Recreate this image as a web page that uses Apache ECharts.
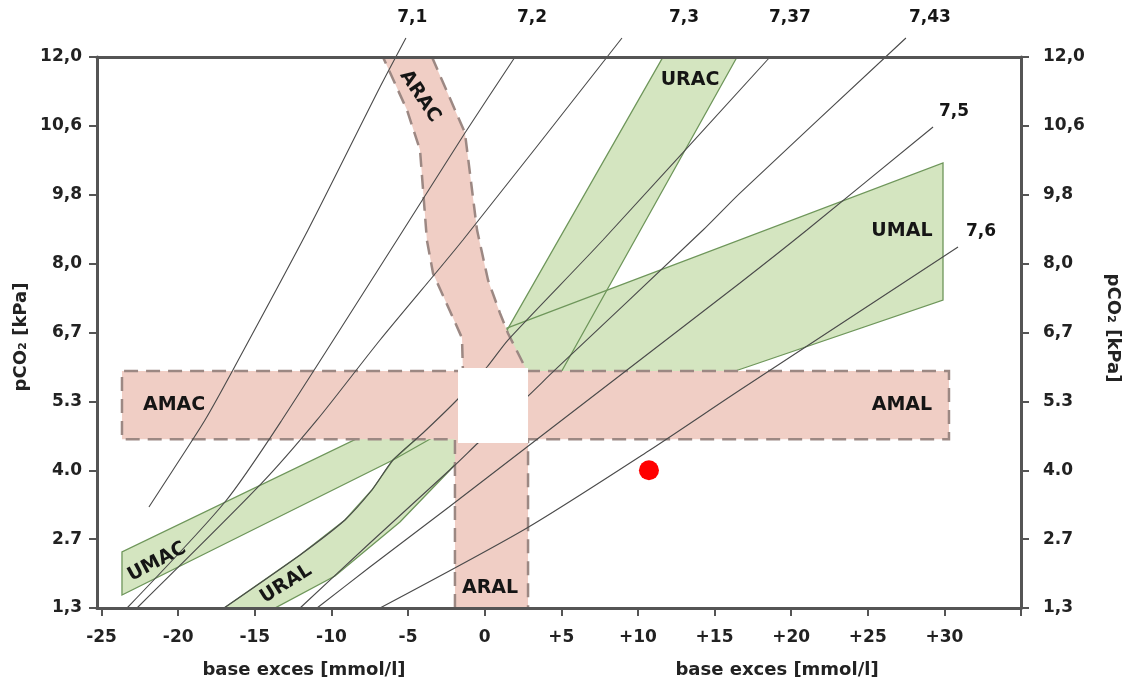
<!DOCTYPE html>
<html><head><meta charset="utf-8">
<script src="https://cdn.jsdelivr.net/npm/echarts@6/dist/echarts.min.js"></script>
<style>html,body{margin:0;padding:0;background:#fff}#c{width:1133px;height:682px}</style>
</head><body><div id="c"></div><script>
// ---- axis ticks ----
const xTickValues = [-25,-20,-15,-10,-5,0,5,10,15,20,25,30];
const yTickLabels = ['1,3','2.7','4.0','5.3','6,7','8,0','9,8','10,6','12,0'];

// ---- compensation zones (x = base excess, y = pCO2 scale position) ----
const zoneURAC = [[11.64,8.0],[16.47,8.0],[3.61,2.875],[0.35,3.601]];
const zoneUMAL = [[1.45,4.065],[29.91,6.461],[29.91,4.472],[17.12,3.499],[4.91,2.584],[1.32,3.02]];
const zoneUMAC = [[-23.67,0.813],[-23.67,0.189],[-5.98,2.149],[-1.94,2.657],[-5.53,2.759]];
const zoneURAL = [[-17.01,0],[-13.69,0],[-9.77,0.465],[-5.53,1.249],[-2.26,2.004],[-0.63,2.439],[-0.96,2.875],[-2.92,2.875],[-4.03,2.541],[-5.98,2.149],[-7.36,1.713],[-9.12,1.278],[-12.05,0.770]];

// acute zones (AMAC/AMAL band, ARAC, ARAL) outline in two open parts
const acuteEdgeA = [[-3.44,8.0],[-1.74,7.13],[-1.29,6.90],[-0.50,5.49],[0.22,4.76],[1.00,4.28],[1.52,3.99],[2.76,3.44],[30.30,3.44],[30.30,2.45],[2.83,2.45],[2.83,0]];
const acuteEdgeB = [[-1.94,0],[-1.94,2.45],[-23.67,2.45],[-23.67,3.44],[-1.42,3.44],[-1.48,3.92],[-3.37,4.86],[-3.77,5.34],[-4.22,6.65],[-5.07,7.23],[-6.64,8.0]];
const normalBox = [[-1.74,2.396],[2.83,2.396],[2.83,3.485],[-1.74,3.485]];

// ---- pH isopleths ----
const ph71  = [[-5.14,8.276],[-6.83,7.564],[-11.53,5.488],[-16.43,3.456],[-18.25,2.730],[-20.34,2.004],[-21.91,1.466]];
const ph72  = [[1.98,8.0],[-1.29,6.897],[-5.72,5.343],[-13.23,2.730],[-16.95,1.539],[-23.34,0]];
const ph73  = [[8.96,8.276],[-1.42,5.343],[-6.83,3.891],[-10.94,2.730],[-14.66,1.786],[-22.69,0]];
const ph737 = [[18.62,8.0],[7.72,5.343],[1.52,3.891],[0.15,3.499],[-1.81,3.020],[-4.03,2.541],[-5.98,2.149],[-7.36,1.713],[-9.12,1.278],[-12.05,0.770],[-17.01,0]];
const ph743 = [[27.49,8.276],[16.66,6.025],[14.25,5.488],[4.59,3.456],[2.83,3.078],[-0.44,2.396],[-2.07,2.047],[-7.49,0.944],[-12.05,0]];
const ph75  = [[29.26,6.984],[21.03,5.488],[16.66,4.719],[9.29,3.456],[2.76,2.338],[-2.33,1.466],[-7.49,0.595],[-10.94,0]];
const ph76  = [[30.89,5.241],[16.66,3.165],[10.79,2.294],[2.76,1.162],[-6.83,0]];

// ---- labels ----
const zoneLabels = [['ARAC',-4.22,7.43,-56],['URAC',13.40,7.666,0],['UMAL',27.23,5.47,0],['AMAC',-20.27,2.947,0],['AMAL',27.23,2.947,0],['ARAL',0.35,0.290,0],['UMAC',-21.39,0.668,28],['URAL',-12.97,0.348,32]];
const phLabels = [['7,1',-4.73,8.566],['7,2',3.09,8.566],['7,3',13.01,8.566],['7,37',19.92,8.566],['7,43',29.06,8.566],['7,5',30.63,7.202],['7,6',32.39,5.459]];
const axisTitles = [['base exces [mmol/l]',-11.79,-0.90,0],['base exces [mmol/l]',19.08,-0.90,0],['pCO\u2082 [kPa]',-30.26,3.935,90],['pCO\u2082 [kPa]',41.0,4.065,-90]];
const patientPoint = [10.72, 2.0];

const FONT = 'DejaVu Sans';
const GREEN_FILL = '#D4E5C0', GREEN_LINE = '#6E965A';
const PINK_FILL = '#F0CEC5', PINK_LINE = '#9C8883';
const AXIS = '#555555';

function shapeSeries(pts, style, z, closed) {
  return {
    type: 'custom', z, data: pts, silent: true, animation: false,
    renderItem(params, api) {
      if (params.dataIndex !== 0) return;
      const points = pts.map(p => api.coord(p));
      return {type: closed ? 'polygon' : 'polyline', shape: {points}, style};
    }
  };
}
function phSeries(pts) {
  return {type:'line', data: pts, symbol:'none', smooth:0.25, clip:false, silent:true, z:6,
    lineStyle:{color:'#4a4a4a', width:1.1}};
}
function textSeries(items, size, color, z) {
  return {type:'scatter', clip:false, silent:true, z, symbolSize:1,
    itemStyle:{color:'rgba(0,0,0,0)', opacity:1},
    data: items.map(([t,x,y,r]) => ({value:[x,y], name:t, label:{rotate:r||0}})),
    label:{show:true, position:'inside', align:'center', verticalAlign:'middle', formatter:p=>p.name,
      fontFamily:FONT, fontWeight:'bold', fontSize:size, color, opacity:1}};
}

const zones = [zoneURAC, zoneUMAL, zoneUMAC, zoneURAL];
const series = [];
zones.forEach(z => series.push(shapeSeries(z, {fill:GREEN_FILL}, 2, true)));
zones.forEach(z => series.push(shapeSeries(z, {fill:'none', stroke:GREEN_LINE, lineWidth:1.3}, 3, true)));
series.push(shapeSeries(acuteEdgeA.concat(acuteEdgeB), {fill:PINK_FILL}, 4, true));
series.push(shapeSeries(acuteEdgeA, {fill:'none', stroke:PINK_LINE, lineWidth:2.5, lineDash:[14,8]}, 5, false));
series.push(shapeSeries(acuteEdgeB, {fill:'none', stroke:PINK_LINE, lineWidth:2.5, lineDash:[14,8]}, 5, false));
[ph71, ph72, ph73, ph737, ph743, ph75, ph76].forEach(p => series.push(phSeries(p)));
series.push(shapeSeries(normalBox, {fill:'#ffffff'}, 7, true));
series.push(textSeries(zoneLabels, 19, '#151515', 8));
series.push(textSeries(phLabels, 17, '#151515', 8));
series.push(textSeries(axisTitles, 18, '#222222', 8));
series.push({type:'scatter', data:[patientPoint], symbolSize:20, itemStyle:{color:'#FF0000', opacity:1}, z:9, silent:true});

const axisLine = {show:true, onZero:false, lineStyle:{color:AXIS, width:3}};
const labelFont = {fontFamily:FONT, fontWeight:'bold', fontSize:17, color:'#222'};
const option = {
  animation:false,
  backgroundColor:'#fff',
  grid:{left:97, right:112, top:57, bottom:74},
  xAxis:[
    {type:'value', min:-25.3, max:35, position:'bottom', z:10, axisLine,
      axisTick:{show:true, customValues:xTickValues.concat([35]), length:8, lineStyle:{color:AXIS, width:2}},
      axisLabel:Object.assign({customValues:xTickValues, margin:21, formatter:v => v > 0 ? '+' + v : String(v)}, labelFont),
      splitLine:{show:false}},
    {type:'value', min:-25.3, max:35, position:'top', z:10, axisLine,
      axisTick:{show:false}, axisLabel:{show:false}, splitLine:{show:false}}
  ],
  yAxis:[
    {type:'value', min:0, max:8, interval:1, position:'left', z:10, axisLine,
      axisTick:{show:true, length:8, lineStyle:{color:AXIS, width:2}},
      axisLabel:Object.assign({margin:15, formatter:v => yTickLabels[Math.round(v)]}, labelFont),
      splitLine:{show:false}},
    {type:'value', min:0, max:8, interval:1, position:'right', z:10, axisLine,
      axisTick:{show:true, length:8, lineStyle:{color:AXIS, width:2}},
      axisLabel:Object.assign({margin:22, formatter:v => yTickLabels[Math.round(v)]}, labelFont),
      splitLine:{show:false}}
  ],
  series
};
const chart = echarts.init(document.getElementById('c'));
chart.setOption(option);
</script></body></html>
